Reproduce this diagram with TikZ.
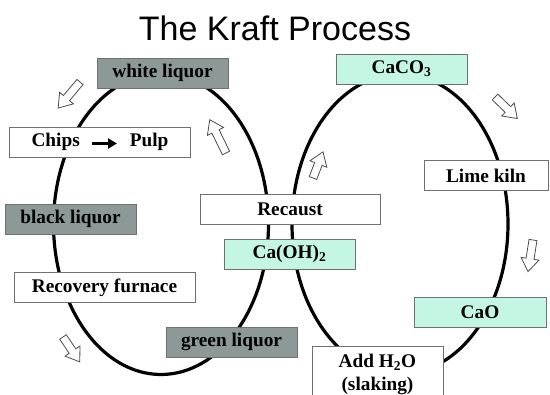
\documentclass[tikz,border=0pt]{standalone}
\usepackage{fontspec}
\setmainfont{Liberation Serif}
\newfontfamily\titlefont{Liberation Sans}
\usetikzlibrary{arrows.meta}

\definecolor{liquorgray}{HTML}{8C9996}
\definecolor{limemint}{HTML}{C4F6E4}
\definecolor{edgegray}{HTML}{707070}

% hollow block arrow: tail point, direction angle, length
\newcommand\blockarrow[3]{%
  \draw[flowarrow, shift={#1}, rotate=#2]
    (0,-4) -- ({#3-13},-4) -- ({#3-13},-9) -- (#3,0) -- ({#3-13},9)
    -- ({#3-13},4) -- (0,4) -- cycle;}

\begin{document}
\begin{tikzpicture}[x=1pt, y=-1pt,
  stage/.style={draw=edgegray, line width=0.9pt, fill=white, inner sep=0pt,
    minimum height=30pt, font=\bfseries\fontsize{19.3}{23}\selectfont},
  liquor/.style={stage, fill=liquorgray},
  lime/.style={stage, fill=limemint},
  cycleline/.style={line width=3.2pt, black},
  flowarrow/.style={draw=black!70, line width=0.8pt, fill=white, line join=miter}]

\useasboundingbox (0,0) rectangle (550,395);
\clip (0,0) rectangle (550,395);

% title
\node[font=\titlefont\fontsize{34}{40}\selectfont, anchor=base] (title) at (275,41) {The Kraft Process};

% the two recovery loops
\draw[cycleline] (161,224) ellipse [x radius=107.5, y radius=150.5];
\draw[cycleline] (400,224) ellipse [x radius=108, y radius=150];

% liquor loop
\node[liquor, minimum width=131pt] (wl) at (162.5,73) {white liquor};
\node[stage, minimum width=181pt] (chips) at (100,142) {Chips\hspace{50pt}Pulp};
\node[liquor, minimum width=131pt] (bl) at (70.5,219) {black liquor};
\node[stage, minimum width=181pt] (rf) at (104.5,287.5) {Recovery furnace};
\node[liquor, minimum width=131pt] (gl) at (231.5,342) {green liquor};

% lime loop
\node[stage, minimum width=180pt] (rc) at (290,209) {Recaust};
\node[lime, minimum width=131pt] (coh) at (289.5,254) {Ca(OH)\textsubscript{2}};
\node[lime, minimum width=131pt] (caco) at (401.5,69) {CaCO\textsubscript{3}};
\node[stage, minimum width=124pt] (lk) at (486,175.5) {Lime kiln};
\node[lime, minimum width=132pt] (cao) at (480,312) {CaO};
\node[stage, minimum width=131pt, minimum height=56pt, align=center,
      font=\bfseries\fontsize{19.3}{23}\selectfont] (add) at (377.5,374)
      {Add H\textsubscript{2}O\\(slaking)};

% arrow inside the chips box
\coordinate (chipsL) at ([xshift=-8pt,yshift=-1.5pt]chips.center);
\coordinate (chipsR) at ([xshift=17pt,yshift=-1.5pt]chips.center);
\draw[line width=2.6pt, -{Triangle[length=9pt,width=10pt]}] (chipsL) -- (chipsR);

% flow direction arrows
\blockarrow{(80,82)}{230}{34}
\blockarrow{(226,153)}{116}{37}
\blockarrow{(313,178)}{69}{28}
\blockarrow{(495,97)}{-44}{31}
\blockarrow{(533,240)}{-99}{32}
\blockarrow{(63,337)}{-56}{30}

\end{tikzpicture}
\end{document}
